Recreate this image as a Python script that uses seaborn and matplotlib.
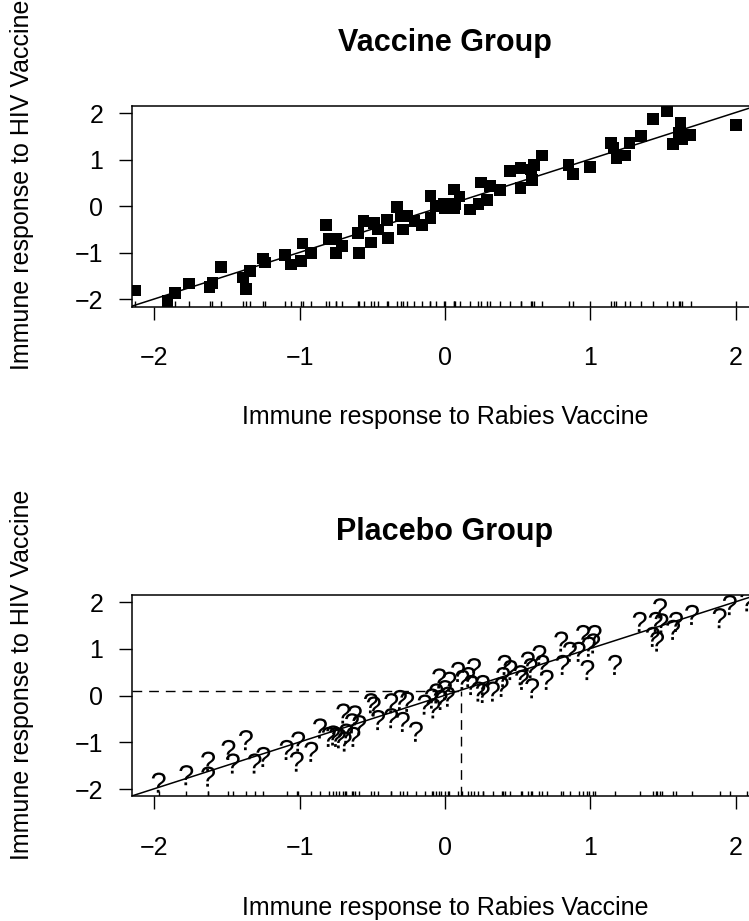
import numpy as np
import pandas as pd
import seaborn as sns
import matplotlib
matplotlib.use("Agg")
import matplotlib.pyplot as plt

# vaccine group (squares)
vaccine_x = [-2.13, -1.91, -1.86, -1.76, -1.62, -1.60, -1.54, -1.39, -1.37, -1.34,
             -1.24, -1.25, -1.10, -1.06, -0.99, -0.98, -0.92, -0.82, -0.80, -0.75,
             -0.75, -0.71, -0.60, -0.59, -0.56, -0.51, -0.49, -0.46, -0.40, -0.39,
             -0.33, -0.30, -0.29, -0.26, -0.21, -0.16, -0.10, -0.10, -0.06, -0.01,
             0.00, 0.06, 0.07, 0.10, 0.06, 0.17, 0.23, 0.25, 0.29, 0.31,
             0.38, 0.45, 0.52, 0.52, 0.59, 0.60, 0.61, 0.67, 0.85, 0.88,
             1.00, 1.14, 1.16, 1.18, 1.24, 1.27, 1.35, 1.43, 1.53, 1.57,
             1.61, 1.62, 1.63, 1.69, 2.00]
vaccine_y = [-1.81, -2.03, -1.87, -1.66, -1.73, -1.65, -1.31, -1.53, -1.78, -1.39,
             -1.21, -1.12, -1.05, -1.25, -1.18, -0.80, -1.01, -0.41, -0.70, -0.70,
             -1.00, -0.86, -0.57, -1.01, -0.32, -0.78, -0.36, -0.50, -0.29, -0.68,
             -0.01, -0.21, -0.50, -0.21, -0.32, -0.41, 0.22, -0.25, 0.00, 0.04,
             -0.03, 0.36, 0.04, 0.21, -0.03, -0.07, 0.04, 0.51, 0.14, 0.43,
             0.35, 0.75, 0.82, 0.39, 0.79, 0.57, 0.89, 1.09, 0.89, 0.69,
             0.84, 1.36, 1.25, 1.04, 1.09, 1.36, 1.51, 1.87, 2.05, 1.34,
             1.58, 1.79, 1.43, 1.52, 1.75]

# placebo group ("?" marks)
placebo_x = [-1.97, -1.78, -1.63, -1.63, -1.49, -1.46, -1.37, -1.31, -1.25, -1.09,
             -1.01, -1.02, -0.92, -0.86, -0.80, -0.77, -0.75, -0.73, -0.70, -0.69,
             -0.68, -0.64, -0.62, -0.63, -0.59, -0.51, -0.49, -0.46, -0.37, -0.37,
             -0.31, -0.26, -0.29, -0.20, -0.14, -0.04, -0.09, -0.06, -0.03, -0.08,
             0.00, 0.02, 0.03, 0.09, 0.12, 0.16, 0.20, 0.18, 0.23, 0.26,
             0.26, 0.33, 0.39, 0.40, 0.41, 0.45, 0.52, 0.53, 0.57, 0.59,
             0.60, 0.65, 0.67, 0.70, 0.80, 0.81, 0.86, 0.92, 0.95, 0.98,
             0.99, 1.03, 1.02, 1.17, 1.34, 1.43, 1.45, 1.48, 1.46, 1.49,
             1.57, 1.59, 1.70, 1.89, 1.96, 2.08]
placebo_y = [-1.86, -1.70, -1.41, -1.73, -1.16, -1.45, -0.95, -1.45, -1.31, -1.16,
             -0.98, -1.41, -1.20, -0.70, -0.88, -0.85, -0.88, -0.91, -0.38, -0.98,
             -0.81, -0.59, -0.42, -0.88, -0.63, -0.16, -0.23, -0.52, -0.16, -0.48,
             -0.09, -0.13, -0.56, -0.77, -0.19, 0.37, -0.06, 0.05, -0.09, -0.27,
             0.12, -0.02, 0.30, 0.51, 0.34, 0.40, 0.59, 0.23, 0.09, 0.23,
             0.06, 0.09, 0.19, 0.40, 0.66, 0.55, 0.44, 0.34, 0.73, 0.59,
             0.16, 0.87, 0.66, 0.34, 1.16, 0.66, 0.94, 0.94, 1.30, 0.55,
             1.05, 1.30, 1.12, 0.66, 1.58, 1.26, 1.58, 1.87, 1.16, 1.55,
             1.41, 1.58, 1.73, 1.66, 1.94, 2.02]

line_slope = 1.0
line_intercept = 0.01
ref_x = 0.11
ref_y = 0.107

ticks = [-2, -1, 0, 1, 2]
lim = 2.156

sns.set_style("ticks")
plt.rcParams["font.family"] = ["Liberation Sans", "DejaVu Sans"]
plt.rcParams["mathtext.fontset"] = "custom"
plt.rcParams["mathtext.rm"] = "Liberation Sans"
plt.rcParams["mathtext.it"] = "Liberation Sans"
plt.rcParams["text.color"] = "black"
plt.rcParams["axes.labelcolor"] = "black"
plt.rcParams["xtick.color"] = "black"
plt.rcParams["ytick.color"] = "black"

fig = plt.figure(figsize=(7.49, 9.21), dpi=100)
ax1 = fig.add_axes([0.1758, 0.667, 0.8366, 0.2182])
ax2 = fig.add_axes([0.1758, 0.1352, 0.8366, 0.2188])

vac = pd.DataFrame({"rabies": vaccine_x, "hiv": vaccine_y})
pla = pd.DataFrame({"rabies": placebo_x, "hiv": placebo_y})

sns.scatterplot(data=vac, x="rabies", y="hiv", marker="s", s=72, color="black",
                edgecolor="none", linewidth=0, ax=ax1, zorder=3)
sns.rugplot(data=vac, x="rabies", height=0.027, color="black", lw=0.7, ax=ax1)

sns.scatterplot(data=pla, x="rabies", y="hiv", marker="$?$", s=210, color="black",
                edgecolor="none", linewidth=0, ax=ax2, zorder=3)
sns.rugplot(data=pla, x="rabies", height=0.027, color="black", lw=0.7, ax=ax2)
ax2.hlines(ref_y, -lim, ref_x, colors="black", linestyles=(0, (7, 5)), lw=1.0)
ax2.vlines(ref_x, -lim, ref_y, colors="black", linestyles=(0, (7, 5)), lw=1.0)

for ax, title in [(ax1, "Vaccine Group"), (ax2, "Placebo Group")]:
    ax.axline((0, line_intercept), slope=line_slope, color="black", lw=1.1)
    ax.set_xlim(-lim, lim)
    ax.set_ylim(-lim, lim)
    ax.set_xticks(ticks)
    ax.set_yticks(ticks)
    ax.tick_params(axis="both", direction="out", length=9.4, width=1.0,
                   labelsize=18, color="black", labelcolor="black")
    ax.tick_params(axis="x", pad=19)
    ax.tick_params(axis="y", pad=11)
    for sp in ax.spines.values():
        sp.set_linewidth(1.1)
        sp.set_color("black")
    ax.set_xlabel("Immune response to Rabies Vaccine", fontsize=18, color="black")
    ax.set_ylabel("Immune response to HIV Vaccine", fontsize=18, color="black")
    ax.xaxis.set_label_coords(0.5, -0.551)
    ax.xaxis.label.set_va("center")
    ax.yaxis.set_label_coords(-0.175, 0.604)
    ax.yaxis.label.set_va("center")
    ax.set_title(title, fontsize=22, fontweight="bold", y=1.31, va="center",
                 pad=0, color="black")

plt.savefig("out.png", dpi=100)
